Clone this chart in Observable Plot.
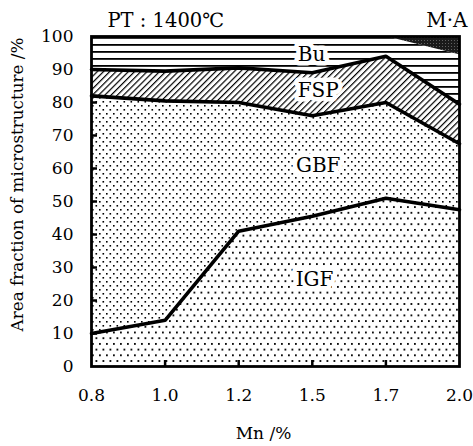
<!DOCTYPE html>
<html>
<head>
<meta charset="utf-8">
<script src="https://cdn.jsdelivr.net/npm/d3@7"></script>
<script src="https://cdn.jsdelivr.net/npm/@observablehq/plot@0.6"></script>
<style>
  html, body { margin: 0; padding: 0; background: #fff; }
  #chart svg { display: block; }
  #chart svg text { font-family: "DejaVu Serif", serif !important; }
</style>
</head>
<body>
<div id="chart"></div>
<script>
// Mn content categories (equally spaced on the axis)
const mn = ["0.8", "1.0", "1.2", "1.5", "1.7", "2.0"];
// Area fractions of each microstructure (%), bottom to top
const igf = [10, 14, 41, 45.5, 51, 47.5];
const gbf = [72, 66.5, 39, 30.5, 29, 20];
const fsp = [8, 9, 10.5, 13, 14, 12];
const bu  = [10, 10.5, 9.5, 11, 6, 15];
const ma  = [0, 0, 0, 0, 0, 5.5];
const phases = ["IGF", "GBF", "FSP", "Bu", "M·A"];
const series = [igf, gbf, fsp, bu, ma];
const yTicks = [0, 10, 20, 30, 40, 50, 60, 70, 80, 90, 100];
// region labels (category index position, % position)
const regionLabels = [
  {i: 2.99, v: 94.6, text: "Bu"},
  {i: 3.08, v: 83.6, text: "FSP"},
  {i: 3.08, v: 60.8, text: "GBF"},
  {i: 3.03, v: 26.2, text: "IGF"}
];

const data = [];
phases.forEach((p, k) => series[k].forEach((v, i) => data.push({i, mn: mn[i], phase: p, value: v})));

const serif = "DejaVu Serif";
const fills = ["url(#pIGF)", "url(#pGBF)", "url(#pFSP)", "url(#pBu)", "url(#pMA)"];

const plot = Plot.plot({
  width: 473,
  height: 446,
  marginLeft: 91,
  marginRight: 14,
  marginTop: 36,
  marginBottom: 80,
  style: {fontFamily: serif, fontSize: "17px", color: "black", background: "white"},
  x: {type: "linear", domain: [0, mn.length - 1], label: null},
  y: {domain: [0, 100], label: null},
  color: {domain: phases, range: fills},
  marks: [
    Plot.areaY(data, {x: "i", y: "value", z: "phase", fill: "phase", curve: "linear"}),
    Plot.lineY(data, Plot.stackY2({
      x: "i", y: "value", z: "phase",
      filter: d => d.phase === "IGF" || d.phase === "GBF" || d.phase === "FSP",
      stroke: "black", strokeWidth: 3.6, strokeLinejoin: "miter"
    })),
    Plot.text(regionLabels, {x: "i", y: "v", text: "text", fill: "black", stroke: "white", strokeWidth: 9, fontSize: 20, fontFamily: serif}),
    Plot.axisY(yTicks, {tickSize: 0, tickPadding: 18, fontSize: 17, fontFamily: serif}),
    Plot.axisY(yTicks.slice(1, -1), {tickSize: -6, tickFormat: () => "", strokeWidth: 2.5}),
    Plot.axisX(d3.range(mn.length), {tickSize: 0, tickPadding: 22, tickFormat: i => mn[i], fontSize: 17, fontFamily: serif}),
    Plot.axisX(d3.range(1, mn.length - 1), {tickSize: -6, tickFormat: () => "", strokeWidth: 2.5}),
    Plot.frame({stroke: "black", strokeWidth: 2.8}),
    Plot.text(["PT : 1400℃"], {frameAnchor: "top-left", dx: 16, dy: -16, lineAnchor: "middle", textAnchor: "start", fontSize: 19.5, fontFamily: serif}),
    Plot.text(["M·A"], {frameAnchor: "top-right", dx: 8, dy: -16, lineAnchor: "middle", textAnchor: "end", fontSize: 20, fontFamily: serif}),
    Plot.text(["Mn /%"], {frameAnchor: "bottom", dx: -12, dy: 67, lineAnchor: "middle", textAnchor: "middle", fontSize: 17, fontFamily: serif}),
    Plot.text(["Area fraction of microstructure /%"], {frameAnchor: "left", dx: -74, dy: -17, rotate: -90, lineAnchor: "middle", textAnchor: "middle", fontSize: 16.8, fontFamily: serif})
  ]
});

const ns = "http://www.w3.org/2000/svg";
const defs = document.createElementNS(ns, "defs");
defs.innerHTML = `
  <pattern id="pBu" patternUnits="userSpaceOnUse" width="10" height="7">
    <rect width="10" height="7" fill="white"/>
    <rect x="0" y="2" width="10" height="1.8" fill="black"/>
  </pattern>
  <pattern id="pFSP" patternUnits="userSpaceOnUse" width="4.4" height="4.4" patternTransform="rotate(45)">
    <rect width="4.4" height="4.4" fill="white"/>
    <rect x="0" y="0" width="1.2" height="4.4" fill="black"/>
  </pattern>
  <pattern id="pGBF" patternUnits="userSpaceOnUse" width="7" height="8">
    <rect width="7" height="8" fill="white"/>
    <rect x="1" y="1" width="1.6" height="1.6" fill="black"/>
    <rect x="4.5" y="5" width="1.6" height="1.6" fill="black"/>
  </pattern>
  <pattern id="pIGF" patternUnits="userSpaceOnUse" width="7" height="11.4">
    <rect width="7" height="11.4" fill="white"/>
    <rect x="1" y="1" width="1.8" height="1.8" fill="black"/>
    <rect x="4.5" y="6.7" width="1.8" height="1.8" fill="black"/>
  </pattern>
  <pattern id="pMA" patternUnits="userSpaceOnUse" width="3" height="3">
    <rect width="3" height="3" fill="#1a1a1a"/>
    <rect x="1" y="1" width="0.8" height="0.8" fill="#888"/>
  </pattern>`;
plot.insertBefore(defs, plot.firstChild);
document.getElementById("chart").appendChild(plot);
</script>
</body>
</html>
